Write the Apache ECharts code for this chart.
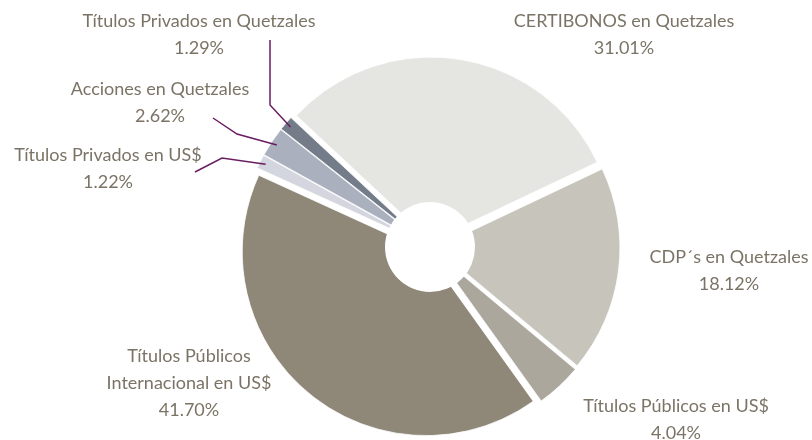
<!DOCTYPE html>
<html>
<head>
<meta charset="utf-8">
<script src="https://cdn.jsdelivr.net/npm/echarts@6/dist/echarts.min.js"></script>
<style>
  html, body { margin: 0; padding: 0; background: #fff; }
  #chart { width: 812px; height: 440px; }
</style>
</head>
<body>
<div id="chart"></div>
<script>
// portfolio composition, clockwise from CERTIBONOS
const categories = [
  'CERTIBONOS en Quetzales',
  'CDP´s en Quetzales',
  'Títulos Públicos en US$',
  'Títulos Públicos\nInternacional en US$',
  'Títulos Privados en US$',
  'Acciones en Quetzales',
  'Títulos Privados en Quetzales'
]
const shares = [31.01, 18.12, 4.04, 41.70, 1.22, 2.62, 1.29]

const sliceColors = ['#e5e5e1', '#c6c4bb', '#aca79d', '#8f8878', '#d3d6de', '#aab0bd', '#747c89']
// label block centres
const labelAnchors = [
  [624, 35], [729, 271], [676, 420], [189, 383], [108, 169], [160, 103], [199, 35]
]
// leader lines for the thin slices: elbow and end, relative to the label centre
const leaderPts = {
  4: [[114, -11], [87, 3]],
  5: [[77, 31], [53, 15]],
  6: [[71, 70], [71, 5]]
}

const CENTER = [430, 247]
const R = 184

const chart = echarts.init(document.getElementById('chart'))

chart.setOption({
  animation: false,
  series: [{
    // exploded slices
    type: 'pie',
    z: 2,
    center: CENTER,
    radius: [0, R],
    startAngle: 137,
    silent: true,
    selectedMode: 'multiple',
    selectedOffset: 6,
    itemStyle: { borderColor: '#fff', borderWidth: 0.8 },
    label: { show: false },
    labelLine: { show: false },
    data: categories.map((name, i) => ({
      name: name,
      value: shares[i],
      selected: true,
      itemStyle: { color: sliceColors[i] }
    }))
  }, {
    // white hub over the middle
    type: 'pie',
    z: 5,
    center: CENTER,
    radius: [0, 45],
    silent: true,
    label: { show: false },
    labelLine: { show: false },
    itemStyle: { color: '#fff' },
    data: [{ name: 'hub', value: 1 }]
  }, {
    // invisible copy carrying the labels
    type: 'pie',
    z: 6,
    center: CENTER,
    radius: [0, R],
    startAngle: 137,
    silent: true,
    avoidLabelOverlap: false,
    itemStyle: { color: 'rgba(0,0,0,0)', borderWidth: 0 },
    label: {
      show: true,
      position: 'outside',
      fontFamily: 'Lato',
      fontSize: 18,
      lineHeight: 27,
      color: '#7b7466',
      align: 'center',
      formatter: p => p.name + '\n' + p.value.toFixed(2) + '%'
    },
    labelLine: {
      show: false,
      lineStyle: { color: '#6b1d62', width: 1.5 }
    },
    labelLayout: p => {
      const [lx, ly] = labelAnchors[p.dataIndex]
      const out = { x: lx, y: ly, align: 'center', verticalAlign: 'middle' }
      const lp = leaderPts[p.dataIndex]
      if (lp && p.labelLinePoints) {
        out.labelLinePoints = [
          p.labelLinePoints[0],
          [lx + lp[0][0], ly + lp[0][1]],
          [lx + lp[1][0], ly + lp[1][1]]
        ]
      }
      return out
    },
    data: categories.map((name, i) => ({
      name: name,
      value: shares[i],
      labelLine: { show: leaderPts[i] != null }
    }))
  }]
})
</script>
</body>
</html>
